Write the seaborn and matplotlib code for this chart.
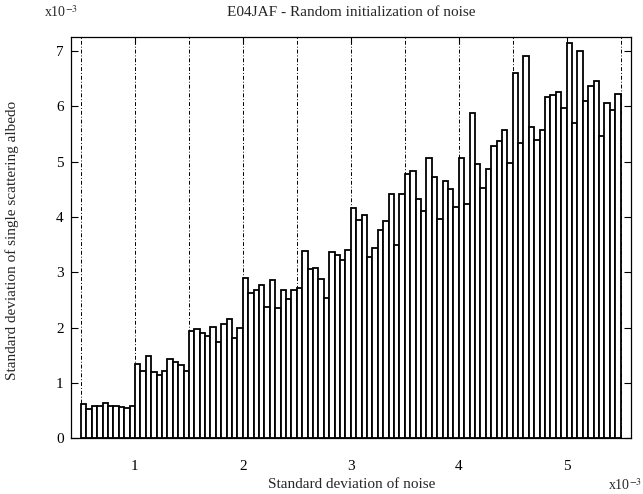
import numpy as np
import pandas as pd
import matplotlib
matplotlib.use("Agg")
import matplotlib.pyplot as plt
import seaborn as sns

# Standard deviation of single scattering albedo (x1e-3), 10 bars per 0.5 noise interval
grp_05_10 = [0.62, 0.53, 0.59, 0.58, 0.64, 0.58, 0.58, 0.56, 0.55, 0.59]
grp_10_15 = [1.34, 1.22, 1.49, 1.20, 1.15, 1.22, 1.43, 1.38, 1.32, 1.22]
grp_15_20 = [1.93, 1.97, 1.90, 1.85, 2.01, 1.74, 2.06, 2.16, 1.81, 1.99]
grp_20_25 = [2.90, 2.62, 2.68, 2.77, 2.37, 2.86, 2.36, 2.68, 2.52, 2.68]
grp_25_30 = [2.71, 3.38, 3.05, 3.07, 2.87, 2.53, 3.37, 3.32, 3.22, 3.40]
grp_30_35 = [4.16, 3.95, 4.03, 3.28, 3.44, 3.77, 3.93, 4.41, 3.49, 4.42]
grp_35_40 = [4.77, 4.83, 4.32, 4.10, 5.06, 4.73, 3.97, 4.64, 4.50, 4.18]
grp_40_45 = [5.06, 4.24, 5.87, 4.95, 4.52, 4.86, 5.28, 5.37, 5.57, 4.97]
grp_45_50 = [6.61, 5.34, 6.90, 5.63, 5.39, 5.57, 6.16, 6.20, 6.26, 5.96]
grp_50_55 = [7.15, 5.70, 6.99, 6.10, 6.37, 6.46, 5.46, 6.05, 5.94, 6.23]

albedo_std = (grp_05_10 + grp_10_15 + grp_15_20 + grp_20_25 + grp_25_30 +
              grp_30_35 + grp_35_40 + grp_40_45 + grp_45_50 + grp_50_55)
# noise standard deviation (x1e-3), bar centres
noise_std = [round(0.525 + 0.05 * i, 4) for i in range(len(albedo_std))]
x_ticks = [1, 2, 3, 4, 5]
y_ticks = [0, 1, 2, 3, 4, 5, 6, 7]
grid_x = [0.5, 1.0, 1.5, 2.0, 2.5, 3.0, 3.5, 4.0, 4.5, 5.0, 5.5]

df = pd.DataFrame({"noise": noise_std, "albedo": albedo_std})

sns.set_style("ticks")
plt.rcParams["font.family"] = ["Liberation Serif", "DejaVu Serif"]
plt.rcParams["mathtext.fontset"] = "stix"

fig = plt.figure(figsize=(6.43, 4.94), dpi=100)
ax = fig.add_axes([0.110, 0.113, 0.872, 0.813])

for gx in grid_x:
    ax.axvline(gx, color="black", lw=0.7, ls=(0, (4, 2, 1, 2)), zorder=0)

sns.barplot(data=df, x="noise", y="albedo", native_scale=True, width=1.0,
            color="white", edgecolor="black", linewidth=1.3, saturation=1,
            errorbar=None, ax=ax, zorder=2)

ax.set_xlim(0.405, 5.6)
ax.set_ylim(0, 7.26)
ax.set_xticks(x_ticks)
ax.set_xticklabels([str(t) for t in x_ticks])
ax.set_yticks(y_ticks)
ax.set_yticklabels([str(t) for t in y_ticks])
ax.tick_params(direction="in", length=5, width=0.8, top=True, right=True,
               labelsize=11, colors="black")
ax.tick_params(axis="x", pad=16)
ax.tick_params(axis="y", pad=5)
for s in ax.spines.values():
    s.set_visible(True)
    s.set_linewidth(0.9)
    s.set_color("black")

ax.set_xlabel("")
ax.set_ylabel("")
fig.text(0.547, 0.020, "Standard deviation of noise", fontsize=11,
         ha="center", va="center")
fig.text(0.019, 0.514, "Standard deviation of single scattering albedo",
         fontsize=11, ha="center", va="center", rotation=90)
fig.text(0.547, 0.975, "E04JAF - Random initialization of noise", fontsize=11,
         ha="center", va="center")

fig.text(0.068, 0.975, r"x10$^{-3}$", fontsize=10, ha="left", va="center")
fig.text(0.945, 0.018, r"x10$^{-3}$", fontsize=10, ha="left", va="center")

fig.savefig("out.png", dpi=100, facecolor="white")
